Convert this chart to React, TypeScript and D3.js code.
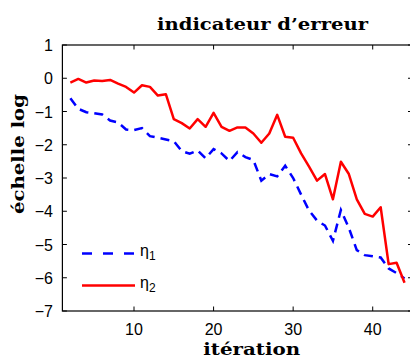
import * as d3 from 'd3';

// iterations 2..44
const iterations = d3.range(2, 45);

const eta1 = [
  -0.6, -0.92, -1.02, -1.05, -1.09, -1.27, -1.33, -1.54, -1.56, -1.5,
  -1.74, -1.79, -1.84, -1.89, -2.19, -2.27, -2.17, -2.41, -2.13, -2.26,
  -2.49, -2.22, -2.37, -2.46, -3.08, -2.88, -2.95, -2.63, -3.0, -3.5,
  -3.98, -4.28, -4.43, -4.89, -3.96, -4.5, -5.17, -5.32, -5.35, -5.39,
  -5.72, -5.86, -6.02,
];

const eta2 = [
  -0.13, -0.02, -0.13, -0.07, -0.08, -0.05, -0.16, -0.26, -0.43, -0.21,
  -0.26, -0.52, -0.48, -1.23, -1.35, -1.51, -1.23, -1.46, -1.04, -1.46,
  -1.58, -1.48, -1.48, -1.66, -1.94, -1.66, -1.1, -1.76, -1.79, -2.26,
  -2.66, -3.08, -2.88, -3.64, -2.51, -2.88, -3.64, -4.08, -4.16, -3.88,
  -5.59, -5.55, -6.15,
];

const xTicks = [10, 20, 30, 40];
const yTicks = [1, 0, -1, -2, -3, -4, -5, -6, -7];

const W = 410;
const H = 358;
const left = 62.4;
const right = 412.5;
const top = 45;
const bottom = 311;

export default function App() {
  const x = d3.scaleLinear().domain([1, 45]).range([left, right]);
  const y = d3.scaleLinear().domain([-7, 1]).range([bottom, top]);
  const fmt = d3.format('d');

  const line = (vals: number[]) =>
    d3.line<number>()
      .x((_, i) => x(iterations[i]))
      .y(d => y(d))(vals) || '';

  const tickLen = 4.5;
  const tickFont = { fontFamily: 'Liberation Sans, Arial, sans-serif', fontSize: 16 };
  const labelFont = { fontFamily: 'DejaVu Serif, serif', fontWeight: 'bold' as const };

  return (
    <svg width={W} height={H} style={{ position: 'absolute', left: 0, top: 0, background: '#fff' }}>
      <rect x={0} y={0} width={W} height={H} fill="#fff" />

      {/* data */}
      <path d={line(eta1)} fill="none" stroke="#0000ff" strokeWidth={2.5} strokeDasharray="9,6" />
      <path d={line(eta2)} fill="none" stroke="#ff0000" strokeWidth={2.5} strokeLinejoin="round" />

      {/* frame */}
      <rect x={left} y={top} width={right - left} height={bottom - top} fill="none" stroke="#000" strokeWidth={1.2} />

      {/* x ticks */}
      {xTicks.map(t => (
        <g key={'x' + t}>
          <line x1={x(t)} x2={x(t)} y1={bottom} y2={bottom - tickLen} stroke="#000" />
          <line x1={x(t)} x2={x(t)} y1={top} y2={top + tickLen} stroke="#000" />
          <text x={x(t)} y={335} textAnchor="middle" {...tickFont}>{fmt(t)}</text>
        </g>
      ))}

      {/* y ticks */}
      {yTicks.map(t => (
        <g key={'y' + t}>
          <line x1={left} x2={left + tickLen} y1={y(t)} y2={y(t)} stroke="#000" />
          <line x1={right} x2={right - tickLen} y1={y(t)} y2={y(t)} stroke="#000" />
          <text x={53} y={y(t) + 6} textAnchor="end" {...tickFont}>{fmt(t)}</text>
        </g>
      ))}

      {/* title and axis labels */}
      <text x={262.5} y={30} textAnchor="middle" fontSize={17} textLength={211} lengthAdjust="spacingAndGlyphs" {...labelFont}>indicateur d’erreur</text>
      <text x={251.7} y={355} textAnchor="middle" fontSize={17} textLength={97} lengthAdjust="spacingAndGlyphs" {...labelFont}>itération</text>
      <text transform="translate(24,154) rotate(-90)" textAnchor="middle" fontSize={17} textLength={120} lengthAdjust="spacingAndGlyphs" {...labelFont}>échelle log</text>

      {/* legend */}
      <line x1={82} x2={135} y1={253.5} y2={253.5} stroke="#0000ff" strokeWidth={2.5} strokeDasharray="10,11" />
      <text x={140} y={256} {...tickFont}>η<tspan fontSize={12} dy={4}>1</tspan></text>
      <line x1={82} x2={135} y1={285.5} y2={285.5} stroke="#ff0000" strokeWidth={2.5} />
      <text x={140} y={288} {...tickFont}>η<tspan fontSize={12} dy={4}>2</tspan></text>
    </svg>
  );
}
